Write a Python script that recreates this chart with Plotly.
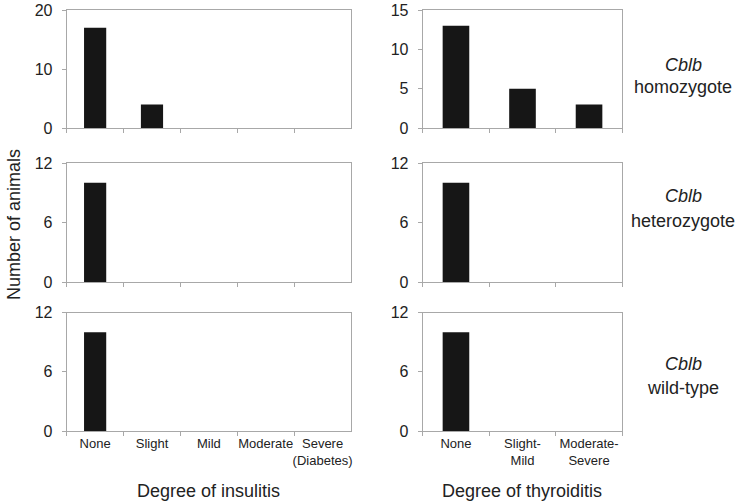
import plotly.graph_objects as go
from plotly.subplots import make_subplots

W, H = 737, 504

# ---- data ----
insulitis_cats = ["None", "Slight", "Mild", "Moderate", "Severe"]
insulitis_labels = ["None", "Slight", "Mild", "Moderate", "Severe<br>(Diabetes)"]
thyroiditis_cats = ["None", "Slight-Mild", "Moderate-Severe"]
thyroiditis_labels = ["None", "Slight-<br>Mild", "Moderate-<br>Severe"]

insulitis_homozygote = [17, 4, 0, 0, 0]
insulitis_heterozygote = [10, 0, 0, 0, 0]
insulitis_wildtype = [10, 0, 0, 0, 0]

thyroiditis_homozygote = [13, 5, 3]
thyroiditis_heterozygote = [10, 0, 0]
thyroiditis_wildtype = [10, 0, 0]

row_genotypes = ["homozygote", "heterozygote", "wild-type"]
y_max_left = [20, 12, 12]
y_dtick_left = [10, 6, 6]
y_max_right = [15, 12, 12]
y_dtick_right = [5, 6, 6]

left_series = [insulitis_homozygote, insulitis_heterozygote, insulitis_wildtype]
right_series = [thyroiditis_homozygote, thyroiditis_heterozygote, thyroiditis_wildtype]

# ---- layout geometry (pixels) ----
x_left = (66.7, 351.0)
x_right = (422.7, 622.3)
rows_px = [(10, 128), (163, 282), (312.5, 431)]

FONT = "Liberation Sans, Arial, sans-serif"
GRAY = "#a8a8a8"

fig = make_subplots(rows=3, cols=2)

for r in range(3):
    fig.add_trace(go.Bar(x=insulitis_cats, y=left_series[r], width=0.39,
                         marker=dict(color="#161616", line=dict(width=0)),
                         showlegend=False), row=r + 1, col=1)
    fig.add_trace(go.Bar(x=thyroiditis_cats, y=right_series[r], width=0.4,
                         marker=dict(color="#161616", line=dict(width=0)),
                         showlegend=False), row=r + 1, col=2)

def ydom(top, bot):
    return [1 - bot / H, 1 - top / H]

for r in range(3):
    top, bot = rows_px[r]
    for c in range(2):
        idx = r * 2 + c + 1
        xs = "xaxis" if idx == 1 else f"xaxis{idx}"
        ys = "yaxis" if idx == 1 else f"yaxis{idx}"
        xp = x_left if c == 0 else x_right
        cats = insulitis_cats if c == 0 else thyroiditis_cats
        labels = insulitis_labels if c == 0 else thyroiditis_labels
        ymax = y_max_left[r] if c == 0 else y_max_right[r]
        dt = y_dtick_left[r] if c == 0 else y_dtick_right[r]
        fig.layout[xs].update(
            domain=[xp[0] / W, xp[1] / W],
            type="category", categoryorder="array", categoryarray=cats,
            tickmode="array", tickvals=cats, ticktext=labels,
            showticklabels=(r == 2), tickson="boundaries", tickangle=0,
            ticks="outside", ticklen=4, tickcolor=GRAY, tickwidth=1,
            showline=True, linecolor=GRAY, linewidth=1, mirror=True,
            showgrid=False, zeroline=False, automargin=False,
            tickfont=dict(family=FONT, size=13, color="#222222"),
            fixedrange=True,
        )
        fig.layout[ys].update(
            domain=ydom(top, bot),
            range=[0, ymax], tickmode="linear", tick0=0, dtick=dt,
            ticks="outside", ticklen=4, tickcolor=GRAY, tickwidth=1,
            showline=True, linecolor=GRAY, linewidth=1, mirror=True,
            showgrid=False, zeroline=False, automargin=False,
            tickfont=dict(family=FONT, size=16, color="#222222"),
            ticklabelstandoff=6,
            fixedrange=True,
        )

annotations = []
label_y = [(65, 87), (196, 221), (364, 388)]
for r in range(3):
    y1, y2 = label_y[r]
    annotations.append(dict(text="<i>Cblb</i>", x=683 / W, y=1 - y1 / H, xref="paper", yref="paper",
                            showarrow=False, xanchor="center", yanchor="middle",
                            font=dict(family=FONT, size=18, color="#222222")))
    annotations.append(dict(text=row_genotypes[r], x=683 / W, y=1 - y2 / H, xref="paper", yref="paper",
                            showarrow=False, xanchor="center", yanchor="middle",
                            font=dict(family=FONT, size=18, color="#222222")))

annotations.append(dict(text="Number of animals", x=14 / W, y=1 - 225 / H, xref="paper", yref="paper",
                        showarrow=False, textangle=-90, xanchor="center", yanchor="middle",
                        font=dict(family=FONT, size=18, color="#222222")))
annotations.append(dict(text="Degree of insulitis", x=208 / W, y=1 - 491 / H, xref="paper", yref="paper",
                        showarrow=False, xanchor="center", yanchor="middle",
                        font=dict(family=FONT, size=18, color="#222222")))
annotations.append(dict(text="Degree of thyroiditis", x=522 / W, y=1 - 491 / H, xref="paper", yref="paper",
                        showarrow=False, xanchor="center", yanchor="middle",
                        font=dict(family=FONT, size=18, color="#222222")))

fig.update_layout(
    width=W, height=H,
    margin=dict(l=0, r=0, t=0, b=0),
    paper_bgcolor="white", plot_bgcolor="white",
    annotations=annotations,
    bargap=0.6,
)

fig.write_html("out.html", config={"displayModeBar": False},
               post_script="document.body.style.margin='0';document.body.style.padding='0';")
